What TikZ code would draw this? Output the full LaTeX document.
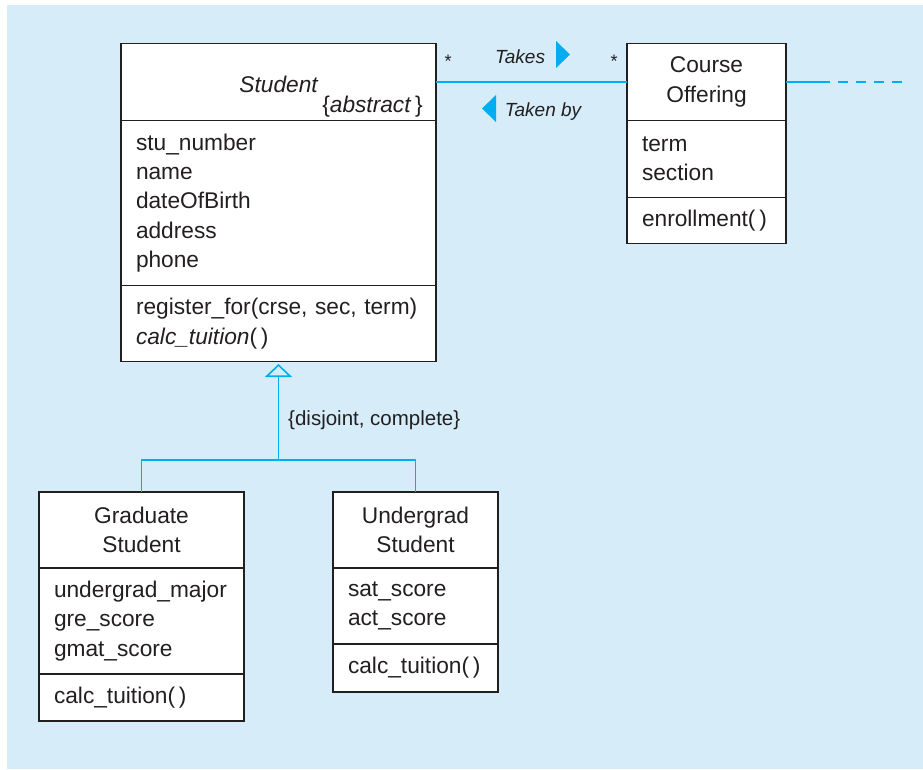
\documentclass[tikz,border=0pt]{standalone}
\usepackage{fontspec}
\setmainfont{Liberation Sans}
\usetikzlibrary{arrows.meta,positioning}
\definecolor{bgblue}{RGB}{214,236,249}
\definecolor{umlcyan}{RGB}{0,174,239}
\definecolor{inkgrey}{RGB}{35,31,32}

\begin{document}
\begin{tikzpicture}[x=1pt,y=-1pt,
  every node/.style={text=inkgrey,inner sep=0pt},
  compart/.style={draw=inkgrey,line width=1.2pt,fill=white,outer sep=0pt,
    inner xsep=15pt,inner ysep=2pt,font=\fontsize{22.7}{29.3}\selectfont},
  namebox/.style={compart,align=center},
  listbox/.style={compart,align=left},
  assoc/.style={draw=umlcyan,line width=1.6pt},
  rolename/.style={font=\fontsize{19}{22}\selectfont\itshape}]
\useasboundingbox (0,0) rectangle (923,769);
\fill[bgblue] (7,5) rectangle (923,769);

% Student
\node[namebox,text width=285pt,minimum height=77pt] (stuName) at (278.5,82) {};
\node[listbox,text width=285pt,minimum height=165pt,below=0pt of stuName] (stuAttr) {stu\_number\\name\\dateOfBirth\\address\\phone};
\node[listbox,text width=285pt,minimum height=76pt,below=0pt of stuAttr] (stuOps) {register\_for(crse, sec, term)\\\textit{calc\_tuition}(\,)};
\node[font=\fontsize{22.7}{29.3}\selectfont,anchor=base] (stuTitle) at (279,92) {\textit{Student}};
\node[font=\fontsize{22.7}{29.3}\selectfont,anchor=base east] (stuAbstract) at (423,112) {\{\textit{abstract}\,\}};

% Course Offering
\node[namebox,text width=129pt,minimum height=77pt] (crsName) at (706.5,82) {Course\\Offering};
\node[listbox,text width=129pt,minimum height=77pt,below=0pt of crsName] (crsAttr) {term\\section};
\node[listbox,text width=129pt,minimum height=46pt,below=0pt of crsAttr] (crsOps) {enrollment(\,)};

% Graduate Student
\node[namebox,text width=175pt,minimum height=76pt] (gradName) at (141.5,530) {Graduate\\Student};
\node[listbox,text width=175pt,minimum height=106pt,below=0pt of gradName] (gradAttr) {undergrad\_major\\gre\_score\\gmat\_score};
\node[listbox,text width=175pt,minimum height=47pt,below=0pt of gradAttr] (gradOps) {calc\_tuition(\,)};

% Undergrad Student
\node[namebox,text width=135pt,minimum height=76pt] (ugName) at (415.5,530) {Undergrad\\Student};
\node[listbox,text width=135pt,minimum height=76pt,below=0pt of ugName] (ugAttr) {sat\_score\\act\_score};
\node[listbox,text width=135pt,minimum height=48pt,below=0pt of ugAttr] (ugOps) {calc\_tuition(\,)};

% association
\coordinate (assocEnd) at (830,82);
\coordinate (dashStart) at (838,82);
\coordinate (dashEnd) at (903,82);
\draw[assoc] (stuName.east) -- (crsName.west);
\draw[assoc] (crsName.east) -- (assocEnd);
\draw[assoc,dash pattern=on 10pt off 8pt] (dashStart) -- (dashEnd);
\node[font=\fontsize{18}{20}\selectfont] (stuMult) at (448,61) {*};
\node[font=\fontsize{18}{20}\selectfont] (crsMult) at (614,61) {*};
\node[rolename,anchor=base] (takes) at (520,63) {Takes};
\fill[umlcyan] (556,41) -- (570,54.5) -- (556,68) -- cycle;
\node[rolename,anchor=base] (takenBy) at (543,116) {Taken by};
\fill[umlcyan] (496,95) -- (482,108.5) -- (496,122) -- cycle;

% generalization
\coordinate (fork) at (278.5,460);
\draw[assoc] (gradName.north) |- (fork) -| (ugName.north);
\draw[assoc,-{Triangle[open,width=27pt,length=13pt]},shorten >=2.5pt] (fork) -- (stuOps.south);
\node[font=\fontsize{20.5}{24}\selectfont,anchor=base west] (gsLabel) at (288,425) {\{disjoint, complete\}};
\end{tikzpicture}
\end{document}
